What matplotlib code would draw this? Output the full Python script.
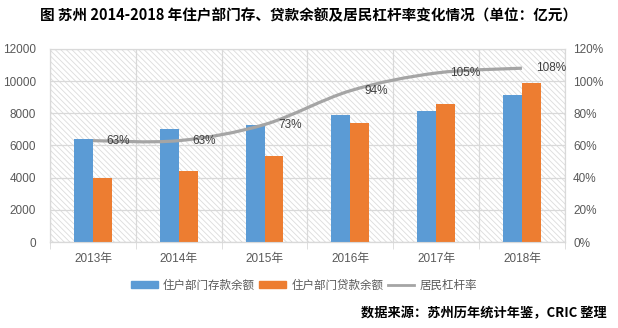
import matplotlib
matplotlib.use("Agg")
import matplotlib.pyplot as plt
import numpy as np
from matplotlib.patches import Rectangle, Patch
from matplotlib.lines import Line2D
from matplotlib.path import Path
from matplotlib.patches import PathPatch

plt.rcParams["font.family"] = ["Liberation Sans", "Noto Sans CJK SC", "DejaVu Sans"]
plt.rcParams["hatch.linewidth"] = 0.6

# data (亿元, 居民杠杆率 %)
years = ["2013年", "2014年", "2015年", "2016年", "2017年", "2018年"]
deposits = [6400, 7000, 7300, 7900, 8150, 9150]
loans = [4000, 4400, 5350, 7400, 8600, 9900]
leverage = [63, 63, 73, 94, 105, 108]
leverage_labels = ["63%", "63%", "73%", "94%", "105%", "108%"]

title = "图 苏州 2014-2018 年住户部门存、贷款余额及居民杠杆率变化情况（单位：亿元）"
source = "数据来源：苏州历年统计年鉴，CRIC 整理"

BLUE = "#5B9BD5"
ORANGE = "#ED7D31"
GRAY_LINE = "#A5A5A5"
GRID = "#D9D9D9"
TEXT = "#595959"

fig = plt.figure(figsize=(6.18, 3.28), dpi=100)
ax = fig.add_axes([0.081, 0.262, 0.833, 0.589])
ax2 = ax.twinx()

# hatched plot-area background
bg = Rectangle((0, 0), 1, 1, transform=ax.transAxes, facecolor="white",
               edgecolor="#DCDCDC", linewidth=0, hatch="\\\\\\\\\\\\", zorder=0)
ax.add_patch(bg)

x = np.arange(len(years))
w = 0.22
ax.bar(x - w / 2, deposits, w, color=BLUE, zorder=3)
ax.bar(x + w / 2, loans, w, color=ORANGE, zorder=3)

ax.set_xlim(-0.5, len(years) - 0.5)
ax.set_ylim(0, 12000)
ax.set_yticks(range(0, 12001, 2000))
ax.set_xticks(x)
ax.set_xticklabels(years)
ax.set_xticks(np.arange(-0.5, len(years)), minor=True)
ax.tick_params(axis="x", which="major", length=0, pad=8, labelsize=8.5, labelcolor=TEXT)
ax.tick_params(axis="x", which="minor", length=5, color=GRID)
ax.tick_params(axis="y", length=0, pad=10, labelsize=8.5, labelcolor=TEXT)
ax.grid(axis="y", color=GRID, linewidth=0.9, zorder=1)
ax.grid(axis="x", which="minor", color=GRID, linewidth=0.9, zorder=1)
ax.set_axisbelow(True)

# smoothed leverage line (Bezier through data points, Excel-style)
ax2.set_ylim(0, 120)
ax2.set_yticks(range(0, 121, 20))
ax2.set_yticklabels([f"{v}%" for v in range(0, 121, 20)])
ax2.tick_params(axis="y", length=0, pad=6, labelsize=8.5, labelcolor=TEXT)
pts = np.column_stack([x, leverage]).astype(float)
verts = [tuple(pts[0])]
codes = [Path.MOVETO]
for i in range(len(pts) - 1):
    p0 = pts[max(i - 1, 0)]
    p1 = pts[i]
    p2 = pts[i + 1]
    p3 = pts[min(i + 2, len(pts) - 1)]
    c1 = p1 + (p2 - p0) / 6
    c2 = p2 - (p3 - p1) / 6
    verts += [tuple(c1), tuple(c2), tuple(p2)]
    codes += [Path.CURVE4] * 3
ax2.add_patch(PathPatch(Path(verts, codes), facecolor="none", edgecolor=GRAY_LINE,
                        linewidth=2.3, zorder=4))
for xi, v, lab in zip(x, leverage, leverage_labels):
    ax2.annotate(lab, (xi, v), xytext=(10, 0), textcoords="offset points",
                 ha="left", va="center", fontsize=8.5, color="#404040", zorder=5)

for a in (ax, ax2):
    for s in a.spines.values():
        s.set_color(GRID)
ax.spines["bottom"].set_color("#BFBFBF")

handles = [Patch(color=BLUE), Patch(color=ORANGE),
           Line2D([], [], color=GRAY_LINE, linewidth=2)]
fig.legend(handles, ["住户部门存款余额", "住户部门贷款余额", "居民杠杆率"],
           loc="center", bbox_to_anchor=(0.492, 0.13), ncol=3, frameon=False,
           handlelength=2.3, handleheight=0.5, columnspacing=0.4,
           handletextpad=0.45, labelcolor=TEXT,
           prop={"family": ["Noto Sans CJK SC"], "size": 8.3})

fig.text(0.5, 0.952, title, ha="center", va="center", fontsize=10.5,
         fontweight="bold", family=["Noto Sans CJK SC", "DejaVu Sans"])
fig.text(0.982, 0.045, source, ha="right", va="center", fontsize=9.5,
         fontweight="bold", family=["Noto Sans CJK SC", "DejaVu Sans"])

fig.savefig("out.png", dpi=100)
